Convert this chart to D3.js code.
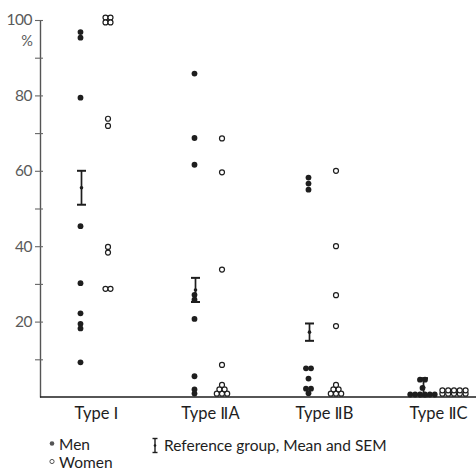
<!DOCTYPE html>
<html>
<head>
<meta charset="utf-8">
<script src="https://cdn.jsdelivr.net/npm/d3@7"></script>
<style>
  html, body { margin: 0; padding: 0; background: #fff; }
  svg { display: block; font-family: Lato, "Open Sans", sans-serif; }
</style>
</head>
<body>
<svg id="chart" width="476" height="470"></svg>
<script>
// ---------------- data ----------------
const categories = ["Type Ⅰ", "Type ⅡA", "Type ⅡB", "Type ⅡC"];

const menValues = [
  [96.8, 95.3, 79.4, 45.3, 30.2, 22.2, 19.4, 18.2, 9.2],
  [85.8, 68.7, 61.6, 27.1, 25.8, 20.7, 5.5, 2.0, 0.9],
  [58.2, 56.6, 55.0, 7.6, 7.6, 4.9, 2.2, 2.2, 1.0],
  [4.6, 4.6, 2.4, 0, 0, 0, 0, 0, 0]
];

const womenValues = [
  [100, 100, 100, 100, 73.8, 71.9, 39.8, 38.3, 28.7, 28.7],
  [68.6, 59.6, 33.8, 8.5, 0, 0, 0, 0, 0, 0],
  [60.0, 40.0, 27.0, 18.8, 0, 0, 0, 0, 0, 0],
  [0, 0, 0, 0, 0, 0, 0, 0, 0, 0]
];

const refMean = [55.5, 28.4, 17.2, 2.6];
const refSEM  = [4.5, 3.2, 2.3, 2.4];

const yTickValues = [10, 20, 30, 40, 50, 60, 70, 80, 90, 100];
const yLabelValues = [20, 40, 60, 80, 100];

const legendItems = ["Men", "Women"];
const legendRefText = "Reference group, Mean and SEM";
const yUnit = "%";

// ---------------- layout ----------------
const svg = d3.select("#chart");
const ink = "#1e1e1e";
const R = 2.9;

const x = d3.scalePoint().domain(categories).range([96, 438]);
const y = d3.scaleLinear().domain([0, 100]).range([397, 20]);

const menDx = -15.5;
const womenDx = 12;
const womenDxRow = 16;

// y axis
const yAxis = d3.axisLeft(y)
  .tickValues(yTickValues)
  .tickSizeInner(5)
  .tickSizeOuter(0)
  .tickPadding(3)
  .tickFormat(d => yLabelValues.includes(d) ? d : "");
const gy = svg.append("g").attr("transform", "translate(40,0)").call(yAxis);
gy.select(".domain").attr("stroke", "#555").attr("stroke-width", 1.4);
gy.selectAll(".tick line").attr("x1", 3).attr("stroke", "#666").attr("stroke-width", 1.1);
gy.selectAll(".tick text").attr("fill", "#5a5a5a").attr("font-size", 15.5)
  .attr("font-family", "Lato, sans-serif").attr("letter-spacing", -0.5);
svg.append("text").attr("x", 27).attr("y", 46).attr("text-anchor", "middle")
  .attr("fill", "#5a5a5a").attr("font-size", 14.5).text(yUnit);

// x axis baseline
svg.append("line").attr("x1", 40).attr("x2", 476)
  .attr("y1", y(0)).attr("y2", y(0))
  .attr("stroke", ink).attr("stroke-width", 1.4);

const xAxis = d3.axisBottom(x).tickSize(0).tickPadding(10);
const gx = svg.append("g").attr("transform", `translate(0,${y(0)})`).call(xAxis);
gx.select(".domain").remove();
gx.selectAll(".tick text").attr("fill", ink).attr("font-size", 16.5)
  .attr("font-family", "Lato, 'DejaVu Sans', sans-serif");

// layout of the points of one group
function layoutGroup(values, cx, zeroMode) {
  const pts = [];
  const counts = d3.rollup(values, v => v.length, d => d);
  counts.forEach((n, v) => {
    if (v === 0) {
      const base = y(0) - R - 0.4;
      if (zeroMode === "pyramid") {
        let k = 1; while (k * (k + 1) / 2 < n) k++;
        let left = n, row = 0, size = k;
        while (left > 0) {
          const m = Math.min(size, left);
          for (let i = 0; i < m; i++)
            pts.push({ x: cx + (i - (m - 1) / 2) * 5.2, y: base - row * 4.4 });
          left -= m; row++; size--;
        }
      } else if (zeroMode === "rows5") {
        for (let i = 0; i < n; i++) {
          const r = Math.floor(i / 5), c = i % 5;
          pts.push({ x: cx + (c - 2) * 5.8, y: base - r * 3.4 });
        }
      } else { // single row
        for (let i = 0; i < n; i++)
          pts.push({ x: cx + (i - (n - 1) / 2) * 4.9, y: base + 0.8 });
      }
    } else if (n > 1) {
      const cols = Math.ceil(Math.sqrt(n));
      const rows = Math.ceil(n / cols);
      for (let i = 0; i < n; i++) {
        const r = Math.floor(i / cols), c = i % cols;
        const inRow = Math.min(cols, n - r * cols);
        pts.push({ x: cx + (c - (inRow - 1) / 2) * 5.0,
                   y: y(v) + (r - (rows - 1) / 2) * 4.8 });
      }
    } else {
      pts.push({ x: cx, y: y(v) });
    }
  });
  return pts;
}

const zeroModeMen = ["pyramid", "pyramid", "pyramid", "row"];
const zeroModeWomen = ["pyramid", "pyramid", "pyramid", "rows5"];

categories.forEach((cat, i) => {
  const cx = x(cat);
  const men = layoutGroup(menValues[i], cx + menDx, zeroModeMen[i]);
  const wx = zeroModeWomen[i] === "rows5" ? cx + womenDxRow : cx + womenDx;
  const women = layoutGroup(womenValues[i], wx, zeroModeWomen[i]);

  svg.append("g").selectAll("circle").data(men).join("circle")
    .attr("cx", d => d.x).attr("cy", d => d.y).attr("r", R).attr("fill", ink);
  svg.append("g").selectAll("circle").data(women).join("circle")
    .attr("cx", d => d.x).attr("cy", d => d.y).attr("r", R - 0.4)
    .attr("fill", "#fff").attr("stroke", ink).attr("stroke-width", 1.2);

  // reference error bar
  const ex = cx + menDx + 1;
  const top = y(refMean[i] + refSEM[i]);
  const bot = y(Math.max(0, refMean[i] - refSEM[i]));
  const g = svg.append("g").attr("stroke", ink).attr("stroke-width", 1.7);
  g.append("line").attr("x1", ex).attr("x2", ex).attr("y1", top).attr("y2", bot);
  g.append("line").attr("x1", ex - 4.5).attr("x2", ex + 4.5).attr("y1", top).attr("y2", top).attr("stroke-width", 2);
  g.append("line").attr("x1", ex - 4.5).attr("x2", ex + 4.5).attr("y1", bot).attr("y2", bot).attr("stroke-width", 2);
  svg.append("circle").attr("cx", ex).attr("cy", y(refMean[i])).attr("r", 1.8).attr("fill", ink);
});

// legend
const lg = svg.append("g").attr("fill", ink).attr("font-size", 15.5);
lg.append("circle").attr("cx", 52).attr("cy", 443.5).attr("r", 2.3).attr("fill", "#555");
lg.append("text").attr("x", 59).attr("y", 450).text(legendItems[0]);
lg.append("circle").attr("cx", 52).attr("cy", 461.5).attr("r", 2.1).attr("fill", "#fff")
  .attr("stroke", "#555").attr("stroke-width", 1);
lg.append("text").attr("x", 59).attr("y", 468).text(legendItems[1]);

const lx = 155;
const lgb = svg.append("g").attr("stroke", ink).attr("stroke-width", 1.4);
lgb.append("line").attr("x1", lx).attr("x2", lx).attr("y1", 438.5).attr("y2", 452.5);
lgb.append("line").attr("x1", lx - 2.5).attr("x2", lx + 2.5).attr("y1", 438.5).attr("y2", 438.5);
lgb.append("line").attr("x1", lx - 2.5).attr("x2", lx + 2.5).attr("y1", 452.5).attr("y2", 452.5);
svg.append("circle").attr("cx", lx).attr("cy", 445.5).attr("r", 1.3).attr("fill", ink);
lg.append("text").attr("x", 164).attr("y", 451).text(legendRefText);
</script>
</body>
</html>
